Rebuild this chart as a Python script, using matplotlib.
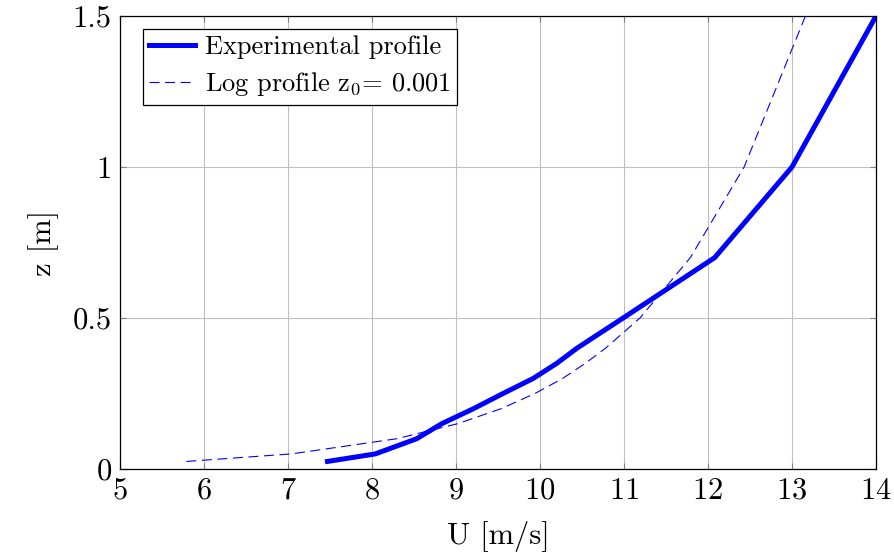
import matplotlib
matplotlib.use("Agg")
import matplotlib.pyplot as plt

plt.rcParams['font.family'] = 'serif'
plt.rcParams['font.serif'] = ['cmr10']
plt.rcParams['mathtext.fontset'] = 'cm'
plt.rcParams['axes.formatter.use_mathtext'] = True

# measured wind profile
exp_u = [7.47, 8.04, 8.53, 8.83, 9.21, 9.56, 9.92, 10.2, 10.44, 10.99, 12.08, 13.0, 14.0]
exp_z = [0.025, 0.05, 0.1, 0.15, 0.2, 0.25, 0.3, 0.35, 0.4, 0.5, 0.7, 1.0, 1.5]

# log-law profile, z0 = 0.001
log_z = [0.025, 0.05, 0.1, 0.15, 0.2, 0.25, 0.3, 0.35, 0.4, 0.5, 0.7, 1.0, 1.5]
log_u = [5.79, 7.04, 8.29, 9.02, 9.54, 9.94, 10.27, 10.54, 10.78, 11.19, 11.79, 12.43, 13.16]

x_ticks = [5, 6, 7, 8, 9, 10, 11, 12, 13, 14]
y_ticks = [0, 0.5, 1, 1.5]
y_ticklabels = ['0', '0.5', '1', '1.5']

fig = plt.figure(figsize=(8.94, 5.55), dpi=100)
ax = fig.add_axes([120/894, 86/555, 756/894, 453/555])

ax.plot(exp_u, exp_z, color='#0000ff', lw=3.6, solid_joinstyle='round',
        label='Experimental profile')
ax.plot(log_u, log_z, color='#0000ff', lw=0.8, dashes=(9, 5),
        label=r'Log profile z$_0$= 0.001')

ax.set_xlim(5, 14)
ax.set_ylim(0, 1.5)
ax.set_xticks(x_ticks)
ax.set_yticks(y_ticks)
ax.set_yticklabels(y_ticklabels)
ax.grid(True, color='#bfbfbf', lw=0.8)
ax.set_axisbelow(True)
ax.tick_params(direction='in', top=True, right=True, length=4, width=0.8,
               color='#7f7f7f', labelsize=22, pad=6)
for s in ax.spines.values():
    s.set_linewidth(0.9)

ax.set_xlabel('U [m/s]', fontsize=22, labelpad=12)
ax.set_ylabel('z [m]', fontsize=22, labelpad=10)

leg = ax.legend(loc='upper left', fontsize=19, frameon=True, fancybox=False,
                edgecolor='black', framealpha=1, borderpad=0.25,
                handlelength=1.75, handletextpad=0.35, labelspacing=0.42,
                borderaxespad=0, bbox_to_anchor=(0.030, 0.971))
leg.get_frame().set_linewidth(0.9)

fig.savefig('out.png', dpi=100)
